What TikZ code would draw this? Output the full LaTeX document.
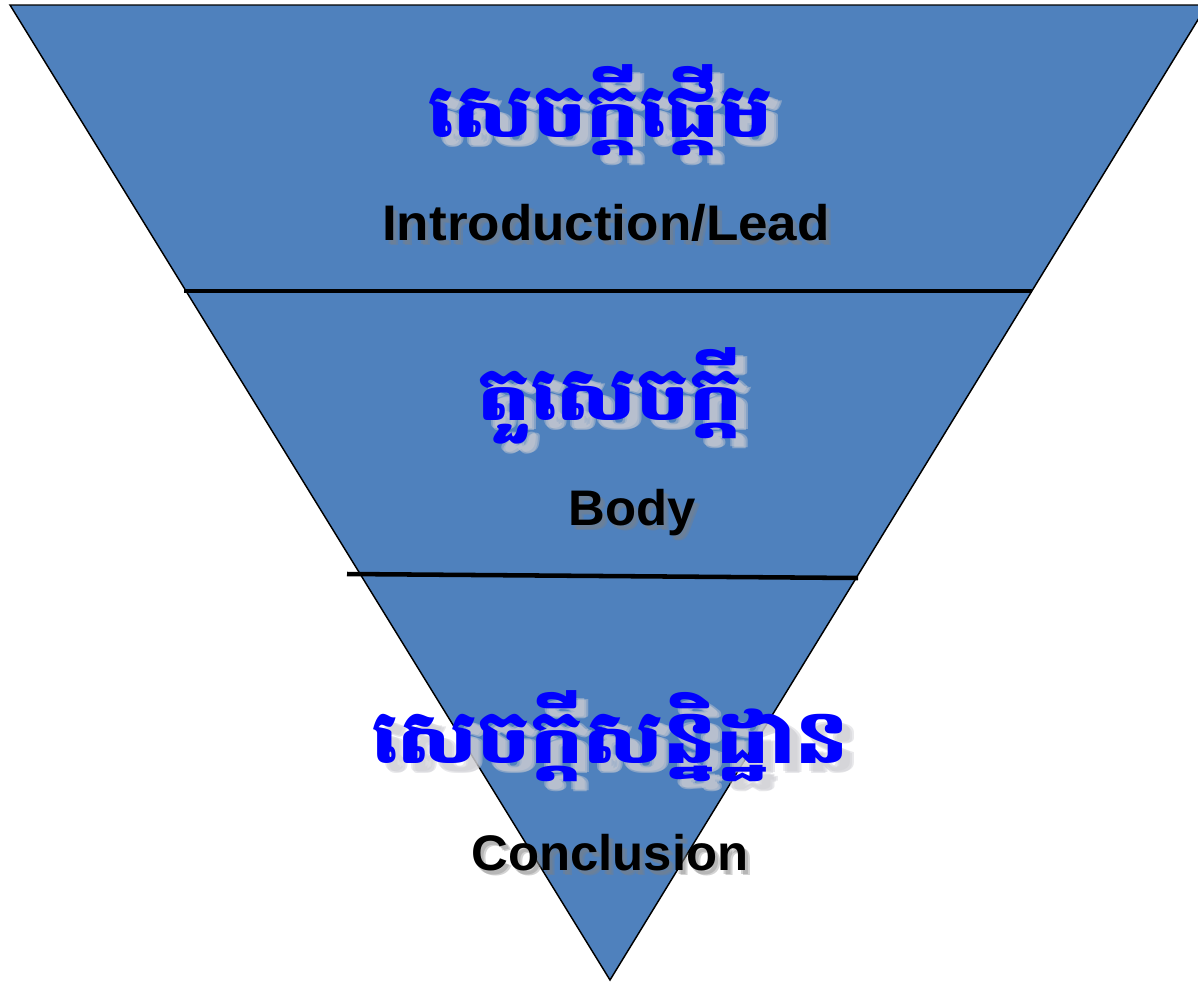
\documentclass[tikz,border=0pt]{standalone}
\usepackage{fontspec}
\setmainfont{Liberation Sans}
\newfontfamily\khmer[Script=Khmer]{Battambang}
\definecolor{funnel}{RGB}{79,129,189}
\definecolor{shade}{RGB}{205,205,210}
\begin{document}
\begin{tikzpicture}[x=0.75pt,y=-0.75pt,
  khm/.style={font=\khmer\bfseries\fontsize{56}{60}\selectfont, text=blue, anchor=base, inner sep=0pt, xscale=1.12, transform shape},
  khmshadow/.style={khm, text=shade, opacity=0.45},
  eng/.style={font=\bfseries\fontsize{37.5}{40}\selectfont, text=black, anchor=base, inner sep=0pt, xscale=1.06, transform shape},
  engsmall/.style={eng, xscale=0.96},
  engshadow/.style={text=gray, opacity=0.35},
  divider/.style={line width=3.4pt, black}]
\useasboundingbox (0,0) rectangle (1198,982);
\coordinate (tl) at (10,5);
\coordinate (tr) at (1207,5);
\coordinate (apex) at (610,980);
\fill[funnel, draw=black, line width=1.1pt, line join=miter] (tl) -- (tr) -- (apex) -- cycle;
\coordinate (d1l) at (184,291);
\coordinate (d1r) at (1032,291);
\coordinate (d2l) at (347,574);
\coordinate (d2r) at (858,578);
\draw[divider] (d1l) -- (d1r);
\draw[divider] (d2l) -- (d2r);
% Khmer titles with soft shadows
\foreach \dx/\dy [count=\i] in {8/8,10/10,12/9} {
  \node[khmshadow] (k1s\i) at (600+\dx,137+\dy) {សេចក្តីផ្តើម};
  \node[khmshadow] (k2s\i) at (610+\dx,420+\dy) {តួសេចក្តី};
  \node[khmshadow] (k3s\i) at (610+\dx,763+\dy) {សេចក្តីសន្និដ្ឋាន};
}
\node[khm] (k1) at (600,137) {សេចក្តីផ្តើម};
\node[khm] (k2) at (610,420) {តួសេចក្តី};
\node[khm] (k3) at (610,763) {សេចក្តីសន្និដ្ឋាន};
% English labels with soft shadows
\foreach \dx/\dy [count=\i] in {3/4,5/5} {
  \node[eng, engshadow] (e1s\i) at (606+\dx,240+\dy) {Introduction/Lead};
  \node[engsmall, engshadow] (e2s\i) at (632+\dx,525+\dy) {Body};
  \node[engsmall, engshadow] (e3s\i) at (610+\dx,870+\dy) {Conclusion};
}
\node[eng] (e1) at (606,240) {Introduction/Lead};
\node[engsmall] (e2) at (632,525) {Body};
\node[engsmall] (e3) at (610,870) {Conclusion};
\end{tikzpicture}
\end{document}
